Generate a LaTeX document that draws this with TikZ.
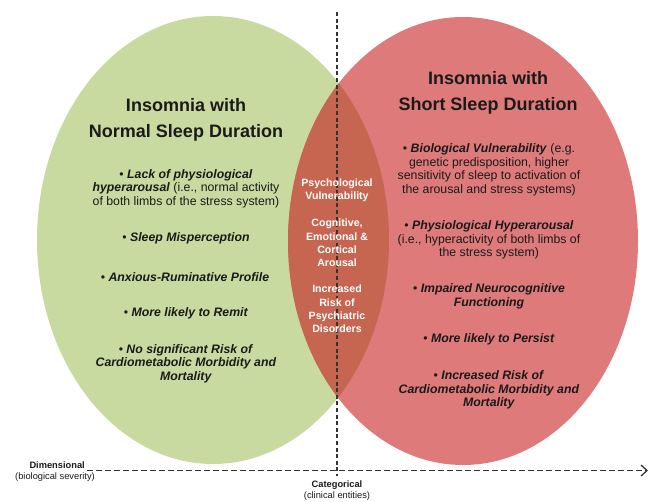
\documentclass[tikz,border=0pt]{standalone}
\usepackage{fontspec}
\setmainfont{Liberation Sans}
\usetikzlibrary{arrows.meta}
\definecolor{grn}{HTML}{C9DAA0}
\definecolor{rd}{HTML}{DE7A7A}
\definecolor{lens}{HTML}{C66550}
\definecolor{txt}{HTML}{1A1A1A}
\definecolor{axis}{HTML}{333333}
\tikzset{
  ttl/.style={align=center,inner sep=0pt,text=txt,font={\fontsize{18}{26}\selectfont\bfseries}},
  blt/.style={align=center,inner sep=0pt,text=txt,font={\fontsize{12.3}{13.5}\selectfont}},
  lns/.style={align=center,inner sep=0pt,text=white,font={\fontsize{10.6}{13.2}\selectfont\bfseries}},
  axlab/.style={align=center,inner sep=0pt,text=txt,font={\fontsize{9.3}{11.5}\selectfont}},
  axline/.style={draw=axis,line width=1.4pt},
}
\newcommand{\bi}[1]{\textbf{\textit{#1}}}
\begin{document}
\begin{tikzpicture}[x=1pt,y=-1pt]
\useasboundingbox (0,0) rectangle (652,502);
% ellipses
\fill[grn] (213,240) ellipse [x radius=176, y radius=224];
\fill[rd] (463,241) ellipse [x radius=175, y radius=224];
\begin{scope}
  \clip (213,240) ellipse [x radius=176, y radius=224];
  \fill[lens] (463,241) ellipse [x radius=175, y radius=224];
\end{scope}
% axes
\coordinate (vtop) at (337,12);
\coordinate (vbot) at (337,476);
\coordinate (hstart) at (87,470.5);
\coordinate (hend) at (648,470.5);
\draw[axline,dash pattern=on 4pt off 2.6pt] (vtop) -- (vbot);
\draw[axline,dash pattern=on 6pt off 3pt,-{Straight Barb[length=6pt,width=11pt,line width=1.3pt]}] (hstart) -- (hend);
% titles
\node[ttl] (tl) at (186,120) {Insomnia with\\Normal Sleep Duration};
\node[ttl] (tr) at (488,93) {Insomnia with\\Short Sleep Duration};
% left bullets
\node[blt] (l1) at (186,188.5) {• \bi{Lack of physiological}\\\bi{hyperarousal} (i.e., normal activity\\of both limbs of the stress system)};
\node[blt] (l2) at (186,238) {• \bi{Sleep Misperception}};
\node[blt] (l3) at (185,277) {• \bi{Anxious-Ruminative Profile}};
\node[blt] (l4) at (186,313) {• \bi{More likely to Remit}};
\node[blt] (l5) at (186,363.5) {• \bi{No significant Risk of}\\\bi{Cardiometabolic Morbidity and}\\\bi{Mortality}};
% right bullets
\node[blt] (r1) at (489,170) {• \bi{Biological Vulnerability} (e.g.\\genetic predisposition, higher\\sensitivity of sleep to activation of\\the arousal and stress systems)};
\node[blt] (r2) at (489,240) {• \bi{Physiological Hyperarousal}\\(i.e., hyperactivity of both limbs of\\the stress system)};
\node[blt] (r3) at (489,296.5) {• \bi{Impaired Neurocognitive}\\\bi{Functioning}};
\node[blt] (r4) at (489,339) {• \bi{More likely to Persist}};
\node[blt] (r5) at (489,390) {• \bi{Increased Risk of}\\\bi{Cardiometabolic Morbidity and}\\\bi{Mortality}};
% lens text
\node[lns] (m1) at (337,190.5) {Psychological\\Vulnerability};
\node[lns] (m2) at (337,243) {Cognitive,\\Emotional \&\\Cortical\\Arousal};
\node[lns] (m3) at (337,309) {Increased\\Risk of\\Psychiatric\\Disorders};
% axis labels
\node[axlab,anchor=east] (dim) at (85,465) {\bfseries Dimensional};
\node[axlab] (dims) at (55,477) {(biological severity)};
\node[axlab] (cat) at (337,485) {\bfseries Categorical};
\node[axlab] (cats) at (337,496) {(clinical entities)};
\end{tikzpicture}
\end{document}
